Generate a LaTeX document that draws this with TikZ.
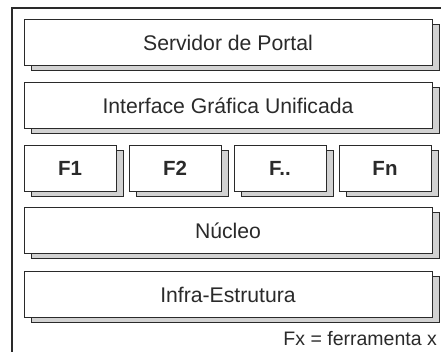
\documentclass[tikz,border=0pt]{standalone}
\usepackage{fontspec}
\setmainfont{Liberation Sans}
\usetikzlibrary{shadows}

\definecolor{inkgray}{HTML}{2A2A2A}
\definecolor{shadegray}{HTML}{D2D2D2}

\tikzset{
  layer/.style={draw=inkgray, line width=1pt, fill=white, text=inkgray,
    minimum width=408pt, minimum height=46pt, inner sep=0pt,
    font=\fontsize{21.2}{26}\selectfont,
    drop shadow={shadow xshift=7pt, shadow yshift=-5pt, opacity=1,
      fill=shadegray, draw=inkgray, line width=1pt}},
  tool/.style={layer, minimum width=92pt,
    font=\fontsize{20.5}{24}\selectfont\bfseries},
}

\begin{document}
\begin{tikzpicture}[x=1pt,y=-1pt]

\useasboundingbox (0,0) rectangle (441,352);

% outer frame (runs off the right and bottom)
\draw[inkgray, line width=1.5pt] (12,352) |- (441,8);

% stacked layers
\node[layer] (servidor)  at (228,42.5)  {Servidor de Portal};
\node[layer] (interface) at (228,105.5) {Interface Gráfica Unificada};

% tools row
\foreach \name/\lbl [count=\i from 0] in {f1/F1, f2/F2, fdots/F.., fn/Fn} {
    \node[tool] (\name) at (70 + \i*105, 168.5) {\lbl};
}

\node[layer] (nucleo) at (228,231)   {Núcleo};
\node[layer] (infra)  at (228,294.5) {Infra-Estrutura};

% legend
\node[anchor=base east, inner sep=0pt, text=inkgray,
      font=\fontsize{19.5}{23}\selectfont] (legenda) at (437,345) {Fx = ferramenta x};

\end{tikzpicture}
\end{document}
